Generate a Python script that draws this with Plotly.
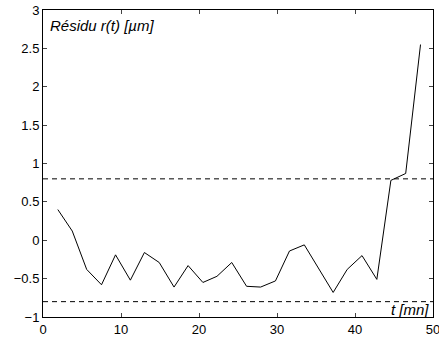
import plotly.graph_objects as go

t_min = [1.9, 3.75, 5.6, 7.5, 9.3, 11.2, 13.0, 14.9, 16.8, 18.6, 20.5, 22.3, 24.2,
         26.1, 27.9, 29.8, 31.6, 33.5, 37.2, 39.0, 40.9, 42.8, 44.6, 46.5, 48.4]
residu = [0.40, 0.12, -0.38, -0.58, -0.19, -0.52, -0.16, -0.29, -0.61, -0.33, -0.55,
          -0.47, -0.29, -0.60, -0.61, -0.53, -0.14, -0.06, -0.68, -0.38, -0.20, -0.51,
          0.78, 0.87, 2.55]
threshold = 0.8
x_range = [0, 50]
x_ticks = [0, 10, 20, 30, 40, 50]
y_ticks = [-1, -0.5, 0, 0.5, 1, 1.5, 2, 2.5, 3]
y_labels = ["\u22121", "\u22120.5", "0", "0.5", "1", "1.5", "2", "2.5", "3"]

font = "Liberation Sans, Arial, Helvetica, sans-serif"

fig = go.Figure()
fig.add_trace(go.Scatter(x=t_min, y=residu, mode="lines",
                         line=dict(color="black", width=1), showlegend=False))
for lvl in (threshold, -threshold):
    fig.add_trace(go.Scatter(x=x_range, y=[lvl, lvl], mode="lines",
                             line=dict(color="black", width=1, dash="5px,4px"),
                             showlegend=False))

fig.update_layout(
    width=439, height=338,
    margin=dict(l=43, r=6, t=10, b=21, autoexpand=False),
    paper_bgcolor="white", plot_bgcolor="white",
    font=dict(family=font, size=13, color="black"),
    xaxis=dict(range=x_range, tickvals=x_ticks, ticks="inside", ticklen=4,
               showline=True, linecolor="black", linewidth=1, mirror="ticks",
               showgrid=False, zeroline=False, tickfont=dict(size=13),
               automargin=False, ticklabeloverflow="allow"),
    yaxis=dict(range=[-1, 3], tickvals=y_ticks, ticktext=y_labels, ticks="inside",
               ticklen=4, showline=True, linecolor="black", linewidth=1,
               mirror="ticks", showgrid=False, zeroline=False, tickfont=dict(size=13),
               automargin=False, ticklabeloverflow="allow"),
    annotations=[
        dict(x=0.6, y=2.93, xref="x", yref="y", text="<i>Résidu r(t) [µm]</i>",
             showarrow=False, xanchor="left", yanchor="top",
             font=dict(size=15, family=font)),
        dict(x=49.7, y=-1, xref="x", yref="y", text="<i>t [mn]</i>",
             showarrow=False, xanchor="right", yanchor="bottom", yshift=-3,
             font=dict(size=15, family=font)),
    ],
)
fig.write_html("out.html", config={"displayModeBar": False},
               post_script="document.body.style.margin='0';document.body.style.overflow='hidden';")
